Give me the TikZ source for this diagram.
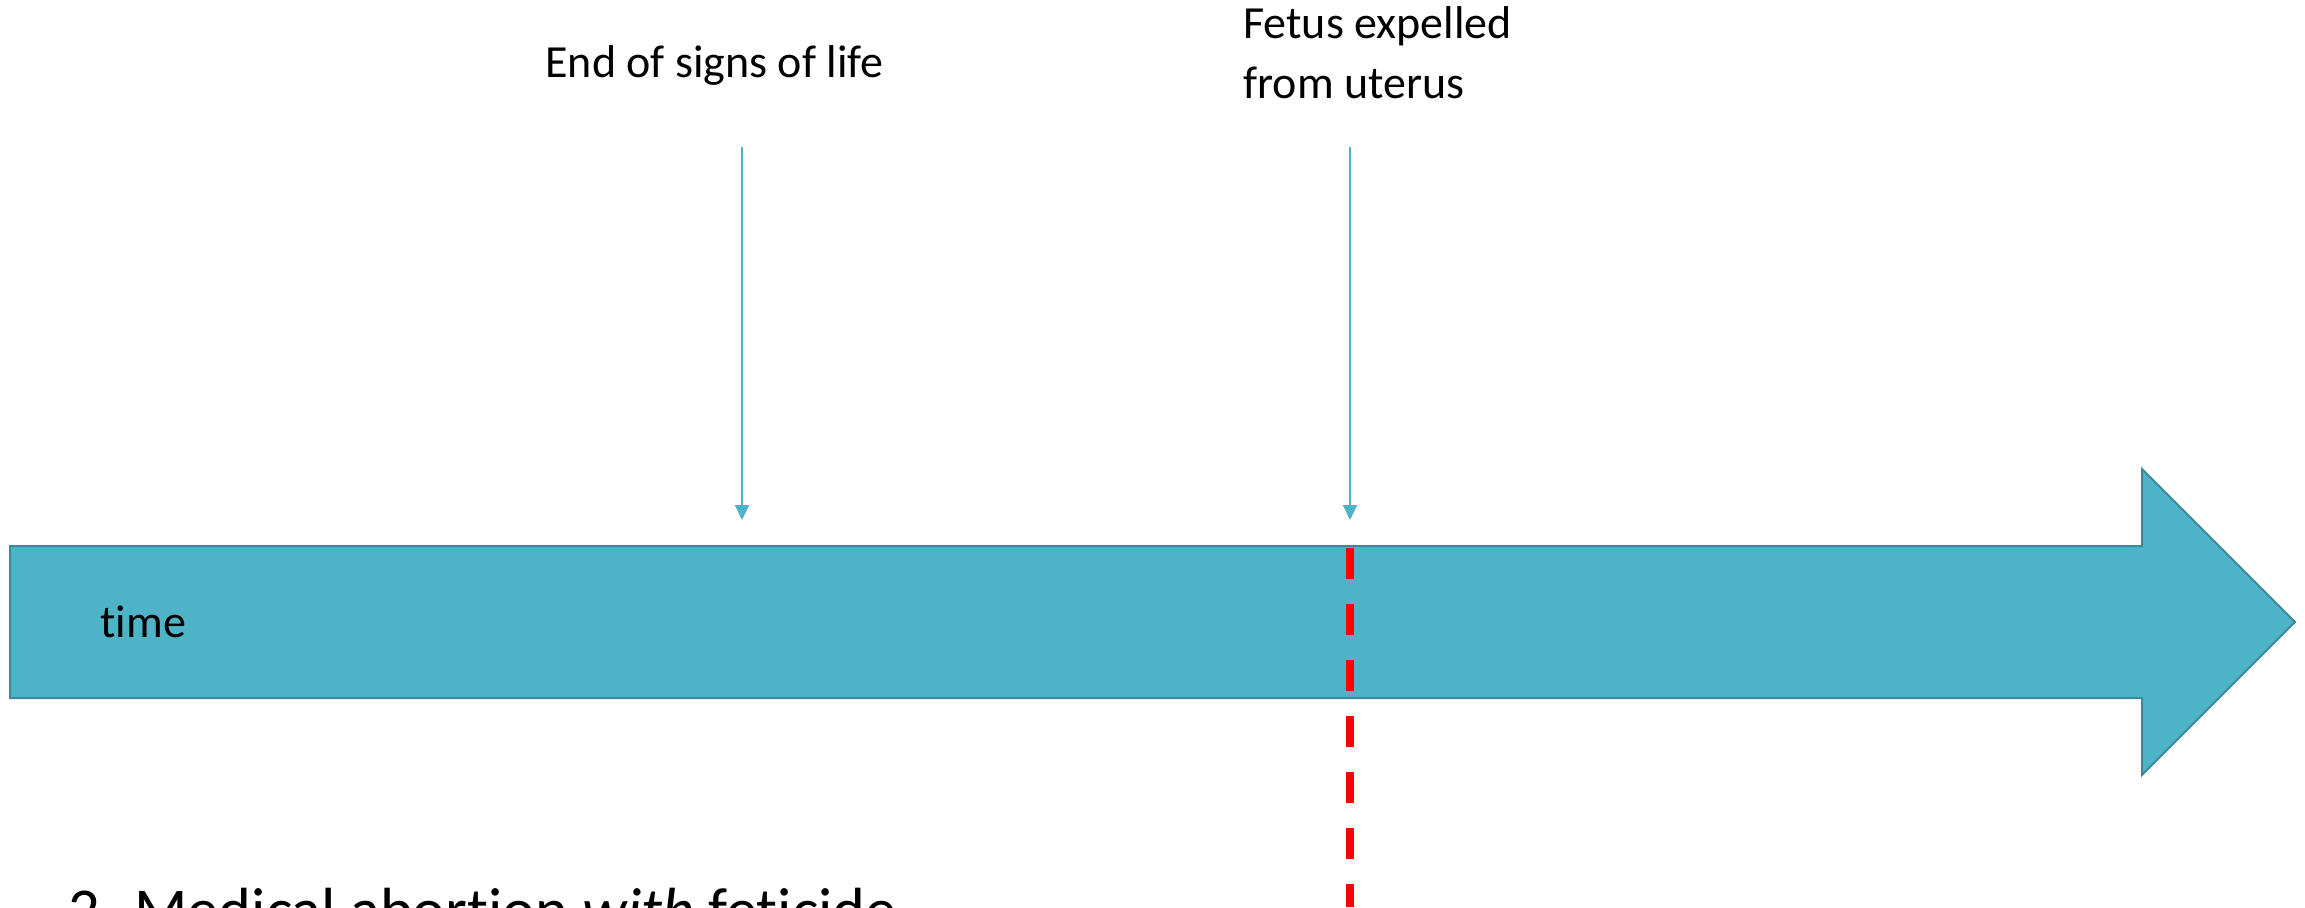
\documentclass[tikz,border=0pt]{standalone}
\usepackage{fontspec}
\setmainfont{Carlito}[Ligatures=NoCommon]
\usetikzlibrary{arrows.meta}
\definecolor{bodyfill}{HTML}{4FB3C8}
\definecolor{bodyline}{HTML}{3D8A99}
\definecolor{markred}{HTML}{FF0000}
\definecolor{pointer}{HTML}{4FB3C8}
\begin{document}
\begin{tikzpicture}[x=0.5pt,y=-0.5pt,
  lbl/.style={inner sep=0pt, font=\fontsize{23pt}{30pt}\selectfont, text=black},
  titlelbl/.style={inner sep=0pt, font=\fontsize{31.2pt}{38pt}\selectfont, text=black},
  pointerline/.style={pointer, line width=1.1pt, -{Triangle[length=7.5pt,width=7pt]}},
  reddash/.style={markred, line width=4pt, dash pattern=on 15.5pt off 12.5pt},
  timebody/.style={draw=bodyline, fill=bodyfill, line width=1pt, line join=miter}]
\useasboundingbox (0,0) rectangle (2305,907);
\fill[white] (0,0) rectangle (2305,907);
% big time arrow
\draw[timebody] (10,546) -- (2142,546) -- (2142,469) -- (2295,622) -- (2142,775) -- (2142,698) -- (10,698) -- cycle;
\node[lbl, anchor=base west] (time) at (100,637) {time};
% red dashed marker
\coordinate (redtop) at (1350,548);
\coordinate (redbot) at (1350,907);
\draw[reddash] (redtop) -- (redbot);
% labels
\node[lbl, anchor=base west] (endlife) at (545,77) {End of signs of life};
\node[lbl, anchor=base west, align=left] (fetus) at (1243,98) {Fetus expelled\\from uterus};
% pointers
\coordinate (p1top) at (742,147);
\coordinate (p1tip) at (742,520);
\coordinate (p2top) at (1350,147);
\coordinate (p2tip) at (1350,520);
\draw[pointerline] (p1top) -- (p1tip);
\draw[pointerline] (p2top) -- (p2tip);
% title (cut off at bottom)
\node[titlelbl, anchor=base west] (title) at (68,931) {2. Medical abortion \textit{with} feticide};
\end{tikzpicture}
\end{document}
